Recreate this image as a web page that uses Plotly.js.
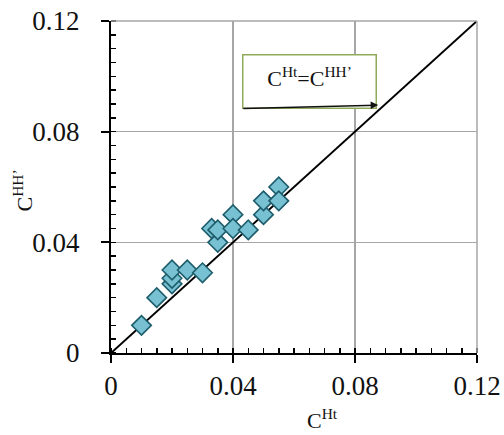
<!DOCTYPE html>
<html>
<head>
<meta charset="utf-8">
<script src="https://cdn.plot.ly/plotly-3.0.1.min.js"></script>
<style>html,body{margin:0;padding:0;background:#fff;}#chart{width:504px;height:435px;}</style>
</head>
<body>
<div id="chart"></div>
<script>
// Data
var cHt  = [0.010, 0.015, 0.020, 0.020, 0.020, 0.025, 0.030, 0.035, 0.033, 0.035, 0.040, 0.040, 0.045, 0.050, 0.050, 0.055, 0.055];
var cHH  = [0.010, 0.020, 0.025, 0.027, 0.030, 0.030, 0.029, 0.040, 0.045, 0.0445, 0.050, 0.045, 0.0445, 0.050, 0.055, 0.060, 0.055];
var lineX = [0, 0.12];
var lineY = [0, 0.12];
var tickVals = [0, 0.04, 0.08, 0.12];
var tickText = ['0', '0.04', '0.08', '0.12'];
var xTitle = 'C<sup>Ht</sup>';
var yTitle = 'C<sup>HH’</sup>';
var noteText = 'C<sup>Ht</sup>=C<sup>HH’</sup>';

var serif = 'Liberation Serif';

var traces = [
  {x: lineX, y: lineY, mode: 'lines', line: {color: '#000', width: 2}, hoverinfo: 'skip', showlegend: false},
  {x: cHt, y: cHH, mode: 'markers', showlegend: false,
   marker: {symbol: 'diamond', size: 15, color: '#78c1d2', line: {color: '#1d5d6c', width: 1.6}}}
];

function axis(extra) {
  var a = {
    range: [0, 0.12], tickvals: tickVals, ticktext: tickText,
    showgrid: true, gridcolor: '#a6a6a6', gridwidth: 1.5, zeroline: false,
    showline: true, linecolor: '#000', linewidth: 2,
    ticks: 'outside', ticklen: 8, tickwidth: 2, tickcolor: '#000',
    tickfont: {family: serif, size: 27, color: '#111'},
    minor: {dtick: 0.005, ticks: 'inside', ticklen: 5, tickwidth: 1.5, tickcolor: '#000', showgrid: false},
    fixedrange: true
  };
  for (var k in extra) a[k] = extra[k];
  return a;
}

var layout = {
  width: 504, height: 435,
  font: {family: serif, size: 22, color: '#111'},
  margin: {l: 111, r: 27, t: 21, b: 82, pad: 0},
  paper_bgcolor: '#fff', plot_bgcolor: '#fff',
  xaxis: axis({}),
  yaxis: axis({ticklabelstandoff: 16}),
  shapes: [
    {type: 'line', xref: 'paper', yref: 'paper', x0: 0, x1: 1, y0: 1, y1: 1, line: {color: '#a6a6a6', width: 1.5}},
    {type: 'line', xref: 'paper', yref: 'paper', x0: 1, x1: 1, y0: 0, y1: 1, line: {color: '#a6a6a6', width: 1.5}}
  ],
  annotations: [
    {xref: 'x', yref: 'y', x: 0.0652, y: 0.0982, text: noteText, showarrow: false,
     font: {family: serif, size: 22, color: '#111'}, bgcolor: '#fff', bordercolor: '#8faa5a', borderwidth: 1.5,
     width: 118, height: 38, borderpad: 7, align: 'center', valign: 'top'},
    {xref: 'x', yref: 'y', axref: 'x', ayref: 'y', x: 0.0876, y: 0.0896, ax: 0.0429, ay: 0.0884,
     text: '', showarrow: true, arrowhead: 2, arrowsize: 1, arrowwidth: 1.5, arrowcolor: '#111'},
    {xref: 'paper', yref: 'paper', x: 0.579, y: -0.246, xanchor: 'center', yanchor: 'bottom',
     text: xTitle, showarrow: false, font: {family: serif, size: 22, color: '#111'}},
    {xref: 'paper', yref: 'paper', x: -0.24, y: 0.49, xanchor: 'center', yanchor: 'middle', textangle: -90,
     text: yTitle, showarrow: false, font: {family: serif, size: 22, color: '#111'}}
  ]
};

Plotly.newPlot('chart', traces, layout, {displayModeBar: false, staticPlot: true});
</script>
</body>
</html>
